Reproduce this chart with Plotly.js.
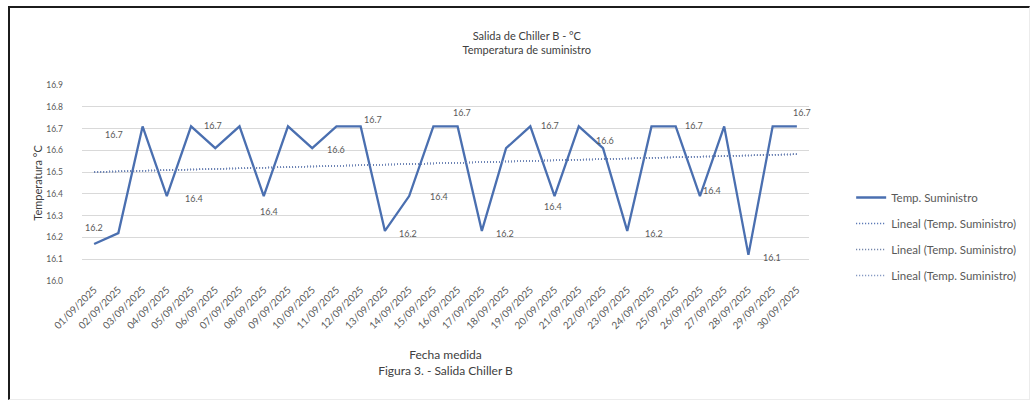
<!DOCTYPE html>
<html>
<head>
<meta charset="utf-8">
<script src="https://cdn.plot.ly/plotly-3.0.1.min.js"></script>
<style>
  html, body { margin: 0; padding: 0; background: #fff; }
  #wrap { position: relative; width: 1033px; height: 408px; overflow: hidden; }
  #chart { position: absolute; left: 0; top: 0; width: 1033px; height: 408px; }
  #frame { position: absolute; left: 8px; top: 6px; width: 1022px; height: 394px;
           border-left: 2px solid #1c1c1c; border-top: 2px solid #1c1c1c;
           border-right: 1px solid #ececec; border-bottom: 1px solid #ececec;
           pointer-events: none; box-sizing: border-box; }
</style>
</head>
<body>
<div id="wrap">
  <div id="chart"></div>
  <div id="frame"></div>
</div>
<script>
// ---- data ----
const fechas = [
  "01/09/2025","02/09/2025","03/09/2025","04/09/2025","05/09/2025","06/09/2025",
  "07/09/2025","08/09/2025","09/09/2025","10/09/2025","11/09/2025","12/09/2025",
  "13/09/2025","14/09/2025","15/09/2025","16/09/2025","17/09/2025","18/09/2025",
  "19/09/2025","20/09/2025","21/09/2025","22/09/2025","23/09/2025","24/09/2025",
  "25/09/2025","26/09/2025","27/09/2025","28/09/2025","29/09/2025","30/09/2025"
];
const tempSuministro = [
  16.17, 16.22, 16.71, 16.39, 16.71, 16.61,
  16.71, 16.39, 16.71, 16.61, 16.71, 16.71,
  16.23, 16.39, 16.71, 16.71, 16.23, 16.61,
  16.71, 16.39, 16.71, 16.61, 16.23, 16.71,
  16.71, 16.39, 16.71, 16.12, 16.71, 16.71
];
const yTicks = [16.0, 16.1, 16.2, 16.3, 16.4, 16.5, 16.6, 16.7, 16.8, 16.9];
// indices of points that carry a data label
const labelIdx = [0, 2, 3, 4, 7, 9, 11, 12, 13, 15, 16, 18, 19, 21, 22, 24, 25, 27, 29];

// ---- label placement (screen-pixel offsets, style only) ----
const labelShift = {
  0: [0, 16], 2: [-29, -8], 3: [27, -2], 4: [22, 1], 7: [5, -15], 9: [24, -1],
  11: [12, 7], 12: [23, -3], 13: [30, 0], 15: [4, 14], 16: [23, -3], 18: [20, 1],
  19: [-2, -10], 21: [2, 8], 22: [27, -3], 24: [18, 1], 25: [12, 6], 27: [24, -3], 29: [5, 14]
};

// ---- linear trend (least squares) from the data ----
const n = tempSuministro.length;
const xs = tempSuministro.map((_, i) => i + 1);
const mx = xs.reduce((a, b) => a + b, 0) / n;
const my = tempSuministro.reduce((a, b) => a + b, 0) / n;
let sxy = 0, sxx = 0;
for (let i = 0; i < n; i++) { sxy += (xs[i] - mx) * (tempSuministro[i] - my); sxx += (xs[i] - mx) ** 2; }
const slope = sxy / sxx, icpt = my - slope * mx;
const trend = xs.map(x => icpt + slope * x);

const FONT = "Lato, 'Liberation Sans', sans-serif";
const GREY = "#595959";
const BLUE = "#4a6fb0";

const traces = [
  {
    x: fechas, y: tempSuministro, type: "scatter", mode: "lines",
    name: "Temp. Suministro", line: { color: BLUE, width: 2.3 },
    legendgroup: "a", hoverinfo: "x+y"
  },
  {
    x: fechas, y: trend, type: "scatter", mode: "lines",
    name: "Lineal (Temp. Suministro)", line: { color: "#3d5fa8", width: 1.5, dash: "1px,2px" },
    legendgroup: "b"
  },
  {
    x: fechas, y: trend, type: "scatter", mode: "lines",
    name: "Lineal (Temp. Suministro)", line: { color: "#5a6f9a", width: 1.5, dash: "1px,2px" },
    legendgroup: "c"
  },
  {
    x: fechas, y: trend, type: "scatter", mode: "lines",
    name: "Lineal (Temp. Suministro)", line: { color: "#6f86b8", width: 1.5, dash: "1px,2px" },
    legendgroup: "d"
  }
];

const annotations = labelIdx.map(i => ({
  x: fechas[i], y: tempSuministro[i], xref: "x", yref: "y",
  text: tempSuministro[i].toFixed(1), showarrow: false,
  xshift: labelShift[i][0], yshift: labelShift[i][1],
  font: { family: FONT, size: 9, color: GREY }
}));

const layout = {
  width: 1033, height: 408,
  margin: { l: 82, r: 220, t: 85, b: 127 },
  paper_bgcolor: "#ffffff", plot_bgcolor: "#ffffff",
  font: { family: FONT, color: GREY },
  title: {
    text: "Salida de Chiller B - °C<br>Temperatura de suministro",
    font: { family: FONT, size: 11, color: "#404040" },
    x: 0.51, xref: "container", xanchor: "center",
    y: 0.903, yref: "container", yanchor: "middle"
  },
  annotations: annotations,
  xaxis: {
    type: "category", range: [-0.5, fechas.length - 0.5],
    tickangle: -45, tickfont: { family: FONT, size: 10, color: GREY },
    showgrid: false, zeroline: false, showline: false, ticks: "",
    title: { text: "Fecha medida<br>Figura 3. - Salida Chiller B", font: { family: FONT, size: 12, color: "#404040" }, standoff: 20 },
    fixedrange: true
  },
  yaxis: {
    range: [16.0, 16.9], tickvals: yTicks, ticktext: yTicks.map(v => v.toFixed(1)),
    tickfont: { family: FONT, size: 8.5, color: GREY },
    showgrid: true, gridcolor: "#d9d9d9", gridwidth: 1,
    zeroline: false, showline: false, ticks: "", ticklabelstandoff: 18,
    title: { text: "Temperatura °C", font: { family: FONT, size: 11, color: "#404040" } },
    fixedrange: true
  },
  legend: {
    x: 1.058, xanchor: "left", y: 0.5, yanchor: "top",
    font: { family: FONT, size: 11.5, color: GREY },
    tracegroupgap: 7, bgcolor: "rgba(0,0,0,0)"
  },
  showlegend: true
};

Plotly.newPlot("chart", traces, layout, { displayModeBar: false, staticPlot: true });
</script>
</body>
</html>
